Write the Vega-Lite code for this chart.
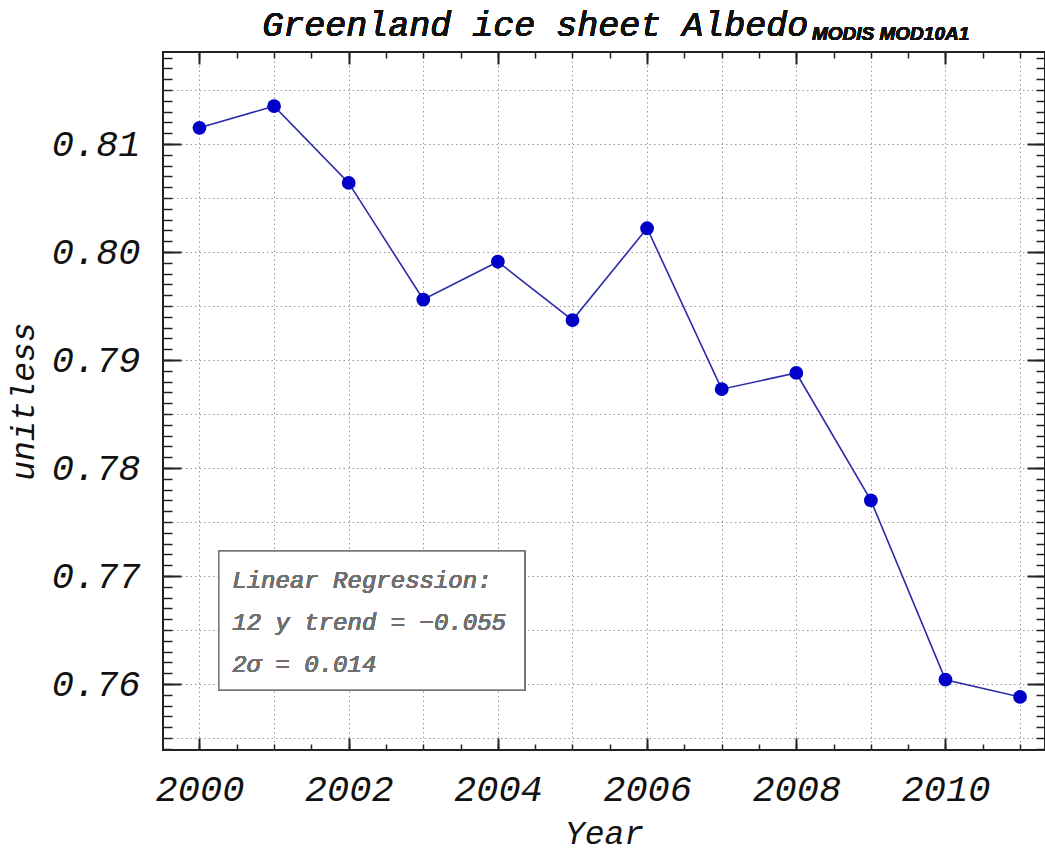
{
  "$schema": "https://vega.github.io/schema/vega-lite/v6.json",
  "width": 882,
  "height": 698,
  "autosize": "none",
  "padding": {"left": 163, "top": 52, "right": 0, "bottom": 102},
  "background": "white",
  "config": {
    "view": {"stroke": "#222", "strokeWidth": 2},
    "axis": {"labelFont": "Liberation Mono", "titleFont": "Liberation Mono", "labelColor": "#111", "titleColor": "#111", "tickColor": "#222", "domain": false}
  },
  "data": {
    "values": [
      {"year": 2000, "albedo": 0.8115},
      {"year": 2001, "albedo": 0.8135},
      {"year": 2002, "albedo": 0.8064},
      {"year": 2003, "albedo": 0.7956},
      {"year": 2004, "albedo": 0.7991},
      {"year": 2005, "albedo": 0.7937},
      {"year": 2006, "albedo": 0.8022},
      {"year": 2007, "albedo": 0.7873},
      {"year": 2008, "albedo": 0.7888},
      {"year": 2009, "albedo": 0.7770},
      {"year": 2010, "albedo": 0.7604},
      {"year": 2011, "albedo": 0.7588}
    ]
  },
  "resolve": {"axis": {"x": "independent", "y": "independent"}},
  "layer": [
    {
      "mark": {"type": "rect", "fill": "white", "stroke": "#777", "strokeWidth": 1.5},
      "encoding": {
        "x": {"datum": 2000.26, "type": "quantitative", "scale": {"domain": [1999.511, 2011.334], "nice": false, "zero": false},
          "axis": {"orient": "bottom", "values": [2000, 2001, 2002, 2003, 2004, 2005, 2006, 2007, 2008, 2009, 2010, 2011], "grid": true, "gridDash": [1.5, 3], "gridColor": "#999", "gridWidth": 1, "ticks": false, "labels": false, "title": null, "zindex": 0}},
        "x2": {"datum": 2004.36},
        "y": {"datum": 0.77231, "type": "quantitative", "scale": {"domain": [0.75389, 0.81852], "nice": false, "zero": false},
          "axis": {"orient": "left", "values": [0.755, 0.76, 0.765, 0.77, 0.775, 0.78, 0.785, 0.79, 0.795, 0.8, 0.805, 0.81, 0.815], "grid": true, "gridDash": [1.5, 3], "gridColor": "#999", "gridWidth": 1, "ticks": false, "labels": false, "title": null, "zindex": 0}},
        "y2": {"datum": 0.75944}
      }
    },
    {
      "mark": {"type": "line", "color": "#2b2ba8", "strokeWidth": 1.6},
      "encoding": {
        "x": {"field": "year", "type": "quantitative", "scale": {"domain": [1999.511, 2011.334], "nice": false, "zero": false},
          "axis": {"orient": "bottom", "values": [2000, 2002, 2004, 2006, 2008, 2010], "format": "d", "grid": false, "tickSize": -12, "tickWidth": 2, "labelFontSize": 37, "labelFontStyle": "italic", "labelPadding": 33, "title": "Year", "titleFontSize": 33, "titleFontStyle": "italic", "titleFontWeight": "normal", "titlePadding": 10, "zindex": 1}},
        "y": {"field": "albedo", "type": "quantitative", "scale": {"domain": [0.75389, 0.81852], "nice": false, "zero": false},
          "axis": {"orient": "left", "values": [0.76, 0.77, 0.78, 0.79, 0.8, 0.81], "format": ".2f", "grid": false, "tickSize": -18, "tickWidth": 2, "labelFontSize": 37, "labelFontStyle": "italic", "labelPadding": 41, "title": "unitless", "titleFontSize": 33, "titleFontStyle": "italic", "titleFontWeight": "normal", "titlePadding": 11, "zindex": 1}}
      }
    },
    {
      "mark": {"type": "circle", "color": "#0000c8", "size": 190, "opacity": 1},
      "encoding": {
        "x": {"field": "year", "type": "quantitative", "scale": {"domain": [1999.511, 2011.334], "nice": false, "zero": false},
          "axis": {"orient": "bottom", "values": [1999.5, 2000, 2000.5, 2001, 2001.5, 2002, 2002.5, 2003, 2003.5, 2004, 2004.5, 2005, 2005.5, 2006, 2006.5, 2007, 2007.5, 2008, 2008.5, 2009, 2009.5, 2010, 2010.5, 2011], "grid": false, "tickSize": -6, "tickWidth": 1.5, "labels": false, "title": null, "zindex": 1}},
        "y": {"field": "albedo", "type": "quantitative", "scale": {"domain": [0.75389, 0.81852], "nice": false, "zero": false},
          "axis": {"orient": "left", "values": [0.754, 0.755, 0.756, 0.757, 0.758, 0.759, 0.76, 0.761, 0.762, 0.763, 0.764, 0.765, 0.766, 0.767, 0.768, 0.769, 0.77, 0.771, 0.772, 0.773, 0.774, 0.775, 0.776, 0.777, 0.778, 0.779, 0.78, 0.781, 0.782, 0.783, 0.784, 0.785, 0.786, 0.787, 0.788, 0.789, 0.79, 0.791, 0.792, 0.793, 0.794, 0.795, 0.796, 0.797, 0.798, 0.799, 0.8, 0.801, 0.802, 0.803, 0.804, 0.805, 0.806, 0.807, 0.808, 0.809, 0.81, 0.811, 0.812, 0.813, 0.814, 0.815, 0.816, 0.817, 0.818], "grid": false, "tickSize": -9, "tickWidth": 1.5, "labels": false, "title": null, "zindex": 1}}
      }
    },
    {
      "mark": {"type": "text", "text": ["Linear Regression:", "12 y trend = −0.055", "2σ = 0.014"], "align": "left", "baseline": "alphabetic", "lineHeight": 42, "font": "Liberation Mono", "fontStyle": "italic", "fontSize": 24, "fill": "#707070"},
      "encoding": {
        "x": {"datum": 2000.44, "type": "quantitative", "scale": {"domain": [1999.511, 2011.334], "nice": false, "zero": false},
          "axis": {"orient": "top", "values": [2000, 2002, 2004, 2006, 2008, 2010], "grid": false, "tickSize": -12, "tickWidth": 2, "labels": false, "title": null, "zindex": 1}},
        "y": {"datum": 0.76889, "type": "quantitative", "scale": {"domain": [0.75389, 0.81852], "nice": false, "zero": false},
          "axis": {"orient": "right", "values": [0.76, 0.77, 0.78, 0.79, 0.8, 0.81], "grid": false, "tickSize": -18, "tickWidth": 2, "labels": false, "title": null, "zindex": 1}}
      }
    },
    {
      "mark": {"type": "text", "text": "MODIS MOD10A1", "align": "left", "baseline": "alphabetic", "font": "Liberation Sans", "fontStyle": "italic", "fontWeight": "bold", "fontSize": 19, "fill": "#111"},
      "encoding": {
        "x": {"datum": 2008.21, "type": "quantitative", "scale": {"domain": [1999.511, 2011.334], "nice": false, "zero": false},
          "axis": {"orient": "top", "values": [1999.5, 2000, 2000.5, 2001, 2001.5, 2002, 2002.5, 2003, 2003.5, 2004, 2004.5, 2005, 2005.5, 2006, 2006.5, 2007, 2007.5, 2008, 2008.5, 2009, 2009.5, 2010, 2010.5, 2011], "grid": false, "tickSize": -6, "tickWidth": 1.5, "labels": false, "title": null, "zindex": 1}},
        "y": {"datum": 0.81963, "type": "quantitative", "scale": {"domain": [0.75389, 0.81852], "nice": false, "zero": false},
          "axis": {"orient": "right", "values": [0.754, 0.755, 0.756, 0.757, 0.758, 0.759, 0.76, 0.761, 0.762, 0.763, 0.764, 0.765, 0.766, 0.767, 0.768, 0.769, 0.77, 0.771, 0.772, 0.773, 0.774, 0.775, 0.776, 0.777, 0.778, 0.779, 0.78, 0.781, 0.782, 0.783, 0.784, 0.785, 0.786, 0.787, 0.788, 0.789, 0.79, 0.791, 0.792, 0.793, 0.794, 0.795, 0.796, 0.797, 0.798, 0.799, 0.8, 0.801, 0.802, 0.803, 0.804, 0.805, 0.806, 0.807, 0.808, 0.809, 0.81, 0.811, 0.812, 0.813, 0.814, 0.815, 0.816, 0.817, 0.818], "grid": false, "tickSize": -9, "tickWidth": 1.5, "labels": false, "title": null, "zindex": 1}}
      }
    },
    {
      "mark": {"type": "text", "text": "Greenland ice sheet Albedo", "align": "left", "baseline": "alphabetic", "font": "Liberation Mono", "fontStyle": "italic", "fontSize": 35, "fill": "#111"},
      "encoding": {
        "x": {"datum": 2000.84, "type": "quantitative", "scale": {"domain": [1999.511, 2011.334], "nice": false, "zero": false}, "axis": null},
        "y": {"datum": 0.82, "type": "quantitative", "scale": {"domain": [0.75389, 0.81852], "nice": false, "zero": false}, "axis": null}
      }
    }
  ]
}
